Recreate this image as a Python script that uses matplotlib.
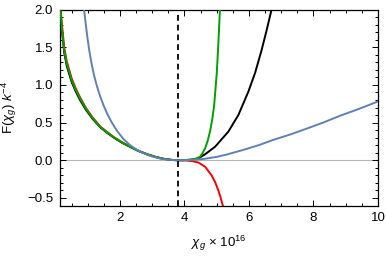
import matplotlib
matplotlib.use("Agg")
import matplotlib.pyplot as plt
from matplotlib.ticker import MultipleLocator

plt.rcParams['font.family'] = ['Liberation Sans', 'DejaVu Sans']
plt.rcParams['mathtext.fontset'] = 'custom'
plt.rcParams['mathtext.rm'] = 'Liberation Sans'
plt.rcParams['mathtext.it'] = 'Liberation Sans:italic'

# minimum position (dashed line)
chi_min = 3.8

# left branches (shared x)
x_left = [0.14, 0.2, 0.27, 0.35, 0.5, 0.62, 0.76, 0.95, 1.15, 1.38, 1.6, 1.79,
          2.05, 2.31, 2.57, 2.83, 3.1, 3.34, 3.6, 3.8]
black_left = [2.02, 1.72, 1.43, 1.25, 1.04, 0.92, 0.80, 0.665, 0.55, 0.44, 0.365,
              0.305, 0.235, 0.178, 0.123, 0.08, 0.044, 0.02, 0.005, 0.0]
red_left = [2.1, 1.80, 1.50, 1.31, 1.09, 0.96, 0.835, 0.69, 0.57, 0.45, 0.375,
            0.313, 0.242, 0.182, 0.126, 0.083, 0.045, 0.02, 0.005, 0.0]
green_left = [2.06, 1.75, 1.46, 1.28, 1.065, 0.94, 0.82, 0.68, 0.56, 0.445, 0.37,
              0.31, 0.24, 0.18, 0.125, 0.082, 0.045, 0.02, 0.005, 0.0]

# right branches
x_black_r = [3.8, 4.0, 4.2, 4.43, 4.64, 4.95, 5.36, 5.67, 5.98, 6.19, 6.39, 6.55, 6.70, 6.78]
black_right = [0.0, 0.002, 0.008, 0.025, 0.08, 0.18, 0.38, 0.60, 0.91, 1.16, 1.46, 1.73, 2.0, 2.15]

x_red_r = [3.8, 4.0, 4.22, 4.43, 4.64, 4.84, 4.95, 5.05, 5.13, 5.2, 5.24]
red_right = [0.0, -0.001, -0.01, -0.03, -0.086, -0.2, -0.29, -0.40, -0.51, -0.62, -0.7]

x_green_r = [3.8, 4.0, 4.2, 4.35, 4.48, 4.56, 4.64, 4.72, 4.79, 4.86, 4.92, 5.0,
             5.05, 5.10, 5.13]
green_right = [0.0, 0.002, 0.008, 0.02, 0.047, 0.095, 0.16, 0.26, 0.38, 0.54, 0.73,
               1.15, 1.55, 2.0, 2.3]

# blue curve
x_blue = [0.86, 0.885, 0.94, 0.99, 1.05, 1.12, 1.2, 1.28, 1.38, 1.48, 1.6, 1.74,
          1.9, 2.1, 2.3, 2.52, 2.75, 3.0, 3.25, 3.5, 3.8, 4.2, 4.6, 5.0, 5.3,
          5.8, 6.3, 6.75, 7.3, 7.79, 8.3, 8.82, 9.4, 10.0]
blue = [2.1, 2.0, 1.80, 1.63, 1.45, 1.28, 1.12, 0.99, 0.855, 0.74, 0.62, 0.505,
        0.395, 0.285, 0.205, 0.14, 0.09, 0.05, 0.022, 0.007, 0.0, 0.004, 0.018,
        0.045, 0.075, 0.135, 0.2, 0.27, 0.345, 0.42, 0.5, 0.59, 0.68, 0.78]

fig = plt.figure(figsize=(3.86, 2.56), dpi=100)
ax = fig.add_axes([60 / 386, 1 - 205.5 / 256, 318 / 386, 196 / 256])

ax.axhline(0, color='#b4b4b4', lw=0.8, zorder=1)
lw = 1.4
ax.plot(x_left, black_left, color='black', lw=lw, zorder=2)
ax.plot(x_black_r, black_right, color='black', lw=lw, zorder=2)
ax.plot(x_left, red_left, color='#ff0000', lw=lw, zorder=2)
ax.plot(x_red_r, red_right, color='#ff0000', lw=lw, zorder=2)
ax.plot(x_left, green_left, color='#00a000', lw=lw, zorder=3)
ax.plot(x_green_r, green_right, color='#00a000', lw=lw, zorder=3)
ax.plot(x_blue, blue, color='#5e81b5', lw=lw, zorder=4)
ax.axvline(chi_min, color='black', lw=1.3, dashes=(3.2, 2.2), zorder=5)

ax.set_xlim(0.14, 10)
ax.set_ylim(-0.6, 2.0)
ax.xaxis.set_major_locator(MultipleLocator(2))
ax.xaxis.set_minor_locator(MultipleLocator(0.5))
ax.yaxis.set_major_locator(MultipleLocator(0.5))
ax.yaxis.set_minor_locator(MultipleLocator(0.1))
ax.set_yticks([-0.5, 0.0, 0.5, 1.0, 1.5, 2.0])
ax.set_yticklabels(['\u22120.5', '0.0', '0.5', '1.0', '1.5', '2.0'])
ax.tick_params(which='both', direction='in', top=True, right=True, labelsize=9.5,
               width=0.7, pad=5)
ax.tick_params(which='major', length=4)
ax.tick_params(which='minor', length=2)
for s in ax.spines.values():
    s.set_linewidth(0.9)

ax.set_xlabel(r'$\chi_g$ × 10$^{16}$', fontsize=9.5, labelpad=7)
ax.set_ylabel(r'F($\chi_g$) $k^{-4}$', fontsize=9.5, labelpad=6)

fig.savefig('out.png', dpi=100)
